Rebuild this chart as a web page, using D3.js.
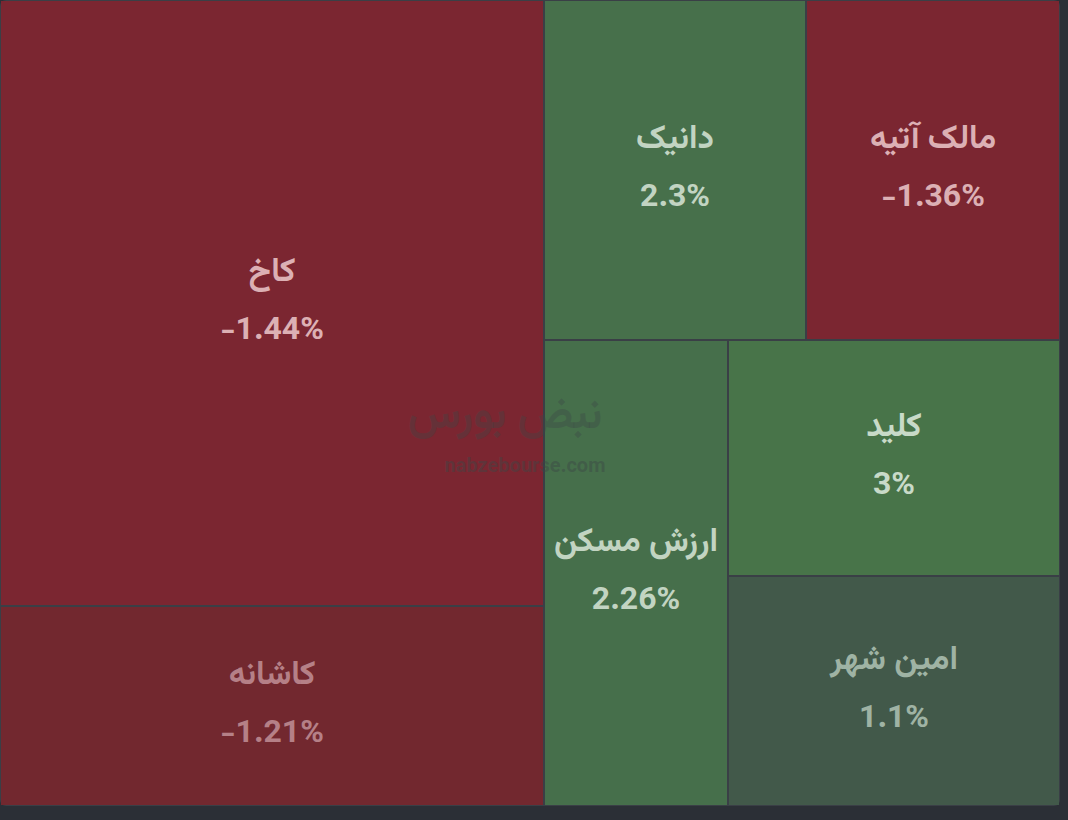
<!DOCTYPE html>
<html><head><meta charset="utf-8">
<script src="https://cdn.jsdelivr.net/npm/d3@7"></script>
<style>body{margin:0;background:#2b2f36;}svg{display:block}</style>
</head><body><svg id="c" width="1068" height="820"></svg>
<script>
const names = ["کاخ","کاشانه","دانیک","مالک آتیه","ارزش مسکن","کلید","امین شهر"];
const changes = [-1.44,-1.21,2.3,-1.36,2.26,3,1.1];
const weights = [329664,108800,89080,86360,85744,78352,76360];
const fills = ["#7b2631","#72282f","#47704b","#7b2631","#466f4b","#487449","#42594a"];
const textFills = ["#dcb0b4","#b58087","#c2d4c2","#dcb0b4","#c2d4c2","#c8dac8","#9fb3a4"];
const labels = ["-1.44%","-1.21%","2.3%","-1.36%","2.26%","3%","1.1%"];
const leaf = i => ({i, value: weights[i]});
const tree = {children:[
  {children:[leaf(0),leaf(1)]},
  {children:[
    {children:[leaf(2),leaf(3)]},
    {children:[leaf(4),{children:[leaf(5),leaf(6)]}]}
  ]}
]};
const root = d3.hierarchy(tree).sum(d=>d.value||0);
d3.treemap().tile(d3.treemapSliceDice).size([1060,806]).round(true)(root);
const svg = d3.select("#c");
svg.append("rect").attr("width",1060).attr("height",806).attr("rx",6).attr("fill","#3a3f46");
const g = svg.selectAll("g.l").data(root.leaves()).join("g");
g.append("rect").attr("x",d=>d.x0+1).attr("y",d=>d.y0+1)
 .attr("width",d=>d.x1-d.x0-2).attr("height",d=>d.y1-d.y0-2)
 .attr("fill",d=>fills[d.data.i]);
const font = "Vazirmatn, 'DejaVu Sans', 'Noto Sans', sans-serif";
g.append("text").attr("x",d=>(d.x0+d.x1)/2).attr("y",d=>(d.y0+d.y1)/2-22)
 .attr("text-anchor","middle").attr("font-family",font).attr("font-weight","bold").attr("font-size",33)
 .attr("fill",d=>textFills[d.data.i]).attr("direction","rtl").text(d=>names[d.data.i]);
g.append("text").attr("x",d=>(d.x0+d.x1)/2).attr("y",d=>(d.y0+d.y1)/2+36)
 .attr("text-anchor","middle").attr("font-family",font).attr("font-weight","bold").attr("font-size",32)
 .attr("fill",d=>textFills[d.data.i]).text(d=>labels[d.data.i]);
svg.append("text").attr("x",525).attr("y",472).attr("text-anchor","middle").attr("font-family",font)
 .attr("font-weight","bold").attr("font-size",20).attr("fill","rgba(60,70,70,0.45)").text("nabzebourse.com");
svg.append("text").attr("x",505).attr("y",428).attr("text-anchor","middle").attr("font-family",font)
 .attr("font-weight","bold").attr("font-size",44).attr("fill","rgba(60,70,70,0.35)").attr("direction","rtl").text("نبض بورس");
</script></body></html>
